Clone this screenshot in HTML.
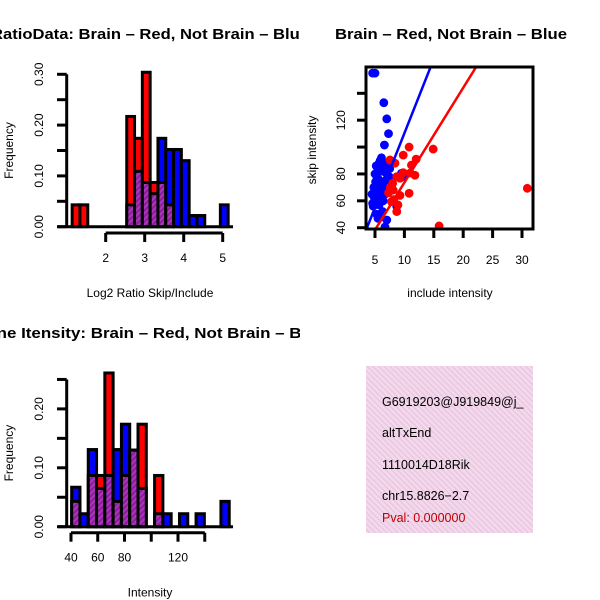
<!DOCTYPE html>
<html><head><meta charset="utf-8"><style>
html,body{margin:0;padding:0;background:#fff;}
svg{display:block;font-family:"Liberation Sans",Arial,sans-serif;}
</style></head><body>
<svg id="chart" width="600" height="600" viewBox="0 0 600 600" xmlns="http://www.w3.org/2000/svg">
<defs>
<clipPath id="clipL"><rect x="0" y="0" width="300" height="600"/></clipPath>
<clipPath id="clipSc"><rect x="366" y="67" width="167" height="162"/></clipPath>
<clipPath id="clipBox"><rect x="366" y="366" width="167" height="167"/></clipPath>
<pattern id="purp" patternUnits="userSpaceOnUse" width="4" height="4" patternTransform="rotate(45)">
<rect width="4" height="4" fill="#8c1c9c"/><rect width="2" height="4" fill="#a838b8"/></pattern>
<pattern id="pinkhatch" patternUnits="userSpaceOnUse" width="4" height="4" patternTransform="rotate(-45)">
<rect width="4" height="4" fill="#f6d6f0"/><rect width="1.3" height="4" fill="#e2cad6"/></pattern>
</defs>
<g id="h1"></g>
<g id="sc"></g>
<g id="h2"></g>
<g>
<rect x="366" y="366" width="167" height="167" fill="url(#pinkhatch)"/>
<g clip-path="url(#clipBox)" font-size="12.5">
<text x="382" y="406">G6919203@J919849@j_</text>
<text x="382" y="437">altTxEnd</text>
<text x="382" y="469">1110014D18Rik</text>
<text x="382" y="500">chr15.8826−2.7</text>
<text x="382" y="522" fill="#c00000">Pval: 0.000000</text>
</g></g>
</svg>
<script>
// ---- Histogram 1: Log2 ratio ----
const h1Start = 1.14, h1Width = 0.2;
const h1Red  = [0.043,0.043,0,0,0,0,0,0.217,0.174,0.304,0.087,0.087,0.043,0,0,0,0,0,0,0];
const h1Blue = [0,0,0,0,0,0,0,0.043,0.109,0.087,0.065,0.174,0.152,0.152,0.130,0.022,0.022,0,0,0.043];
const h1XTicks = [2,3,4,5];
const h1YTicks = [0,0.05,0.10,0.15,0.20,0.25,0.30];
const h1YLabels = ["0.00","","0.10","","0.20","","0.30"];
// ---- Histogram 2: Intensity ----
const h2Start = 40.5, h2Width = 6.2;
const h2Red  = [0.043,0,0.087,0.087,0.261,0.043,0.087,0.130,0.174,0,0.087,0,0,0,0,0,0,0,0];
const h2Blue = [0.067,0.022,0.131,0.065,0.087,0.131,0.174,0.130,0.065,0,0.022,0.022,0,0.022,0,0.022,0,0,0.043];
const h2XTicks = [40,60,80,100,120,140];
const h2XLabels = ["40","60","80","","120",""];
const h2YTicks = [0,0.05,0.10,0.15,0.20,0.25];
const h2YLabels = ["0.00","","0.10","","0.20",""];
// ---- Scatter ----
const blueX = [4.7,4.9,5.0,4.8,5.1,5.3,5.0,5.5,5.7,5.9,6.1,6.3,5.6,5.8,6.0,6.2,5.4,5.7,6.4,6.6,6.8,7.0,6.5,6.9,7.2,7.4,6.3,6.0,5.3,4.6,4.5,6.7,7.3,7.5,5.2,6.1,4.6,5.0,6.5,7.0,7.3,6.6,8.1,9.5,9.8,8.7,7.0,5.5,6.7,4.7];
const blueY = [56,62,66,70,74,78,80,84,88,90,86,82,76,72,68,64,60,57,60,70,75,80,84,88,86,78,52,48,50,58,65,65,72,84,86,92,155,155,133,121,110,101.5,88,80.5,78,55.8,45.7,47,40.5,57];
const redX = [10.8,14.9,12,11.2,11.8,11,7.55,8.4,9.8,9.8,8.7,9.25,10.8,8.1,9.25,7.8,8.9,8.7,8.2,15.9,30.9,7.3,7.6,8.0];
const redY = [100,98.5,91,86.6,79,80.7,90.4,88,94,81,78,76.8,65.6,68,64,59.4,57,52,61,41.3,69.3,66,70,73];
const fitSlope = [11.06, 7.05];     // blue, red
const fitIntercept = [-0.3, 3.1];
const scXTicks = [5,10,15,20,25,30];
const scYTicks = [40,60,80,100,120,140];
const scYLabels = ["40","60","80","","120",""];

const NS = "http://www.w3.org/2000/svg";
function mk(parent, tag, attrs, txt){
  const e = document.createElementNS(NS, tag);
  for (const k in attrs) e.setAttribute(k, attrs[k]);
  if (txt !== undefined) e.textContent = txt;
  parent.appendChild(e); return e;
}

function histogram(g, o){
  const t = mk(g,'text',{x:150,y:o.titleY,'text-anchor':'middle','font-size':15,'font-weight':'bold','clip-path':'url(#clipL)',textLength:o.titleLen,lengthAdjust:'spacingAndGlyphs'},o.title);
  
  
  for (let i=0;i<o.red.length;i++){
    const r=o.red[i], b=o.blue[i]; if(r===0&&b===0) continue;
    const x0=o.x(o.start+i*o.width), x1=o.x(o.start+(i+1)*o.width);
    const hi=Math.max(r,b), lo=Math.min(r,b);
    const bar = mk(g,'rect',{x:x0,y:o.y(hi),width:x1-x0,height:o.y(0)-o.y(hi),fill:r>=b?'#ff0000':'#0000ff',stroke:'#000','stroke-width':3});
    
    
    if (lo>0){
      const ov = mk(g,'rect',{x:x0,y:o.y(lo),width:x1-x0,height:o.y(0)-o.y(lo),fill:'url(#purp)',stroke:'#000','stroke-width':3});
      
      
    }
  }
  const bl = mk(g,'line',{x1:58,x2:233,y1:o.y(0),y2:o.y(0),stroke:'#000','stroke-width':3});
  
  
  const ya = mk(g,'line',{x1:66.7,x2:66.7,y1:o.y(o.yTicks[0]),y2:o.y(o.yTicks[o.yTicks.length-1]),stroke:'#000','stroke-width':3});
  
  
  o.yTicks.forEach((v,i)=>{
    mk(g,'line',{x1:57,x2:66.7,y1:o.y(v),y2:o.y(v),stroke:'#000','stroke-width':3});
    if(o.yLabels[i]){
      const yy=o.y(v);
      const l = mk(g,'text',{x:43,y:yy,'font-size':12,'text-anchor':'middle',transform:`rotate(-90 43 ${yy})`},o.yLabels[i]);
      
      
    }
  });
  const xa = mk(g,'line',{x1:o.x(o.xTicks[0]),x2:o.x(o.xTicks[o.xTicks.length-1]),y1:o.axisY,y2:o.axisY,stroke:'#000','stroke-width':3});
  
  
  o.xTicks.forEach((v,i)=>{
    mk(g,'line',{x1:o.x(v),x2:o.x(v),y1:o.axisY,y2:o.axisY+9,stroke:'#000','stroke-width':3});
    if(o.xLabels[i]){
      const l = mk(g,'text',{x:o.x(v),y:o.axisY+29,'font-size':12,'text-anchor':'middle'},o.xLabels[i]);
      
      
    }
  });
  const xt = mk(g,'text',{x:150,y:o.axisY+64,'font-size':12,'text-anchor':'middle'},o.xTitle);
  
  
  const yc=(o.y(0)+o.y(o.yTicks[o.yTicks.length-1]))/2;
  const yt = mk(g,'text',{x:13,y:yc,'font-size':12,'text-anchor':'middle',transform:`rotate(-90 13 ${yc})`},'Frequency');
  
  
}

histogram(document.getElementById('h1'),{
  title:'RatioData: Brain – Red, Not Brain – Blue', titleY:39, titleLen:318,
  red:h1Red, blue:h1Blue, start:h1Start, width:h1Width,
  x:v=>105.7+(v-2)*39, y:f=>226.7-f*508, axisY:233,
  xTicks:h1XTicks, xLabels:h1XTicks.map(String), yTicks:h1YTicks, yLabels:h1YLabels,
  xTitle:'Log2 Ratio Skip/Include'
});
histogram(document.getElementById('h2'),{
  title:'Gene Itensity: Brain – Red, Not Brain – Blue', titleY:338, titleLen:352,
  red:h2Red, blue:h2Blue, start:h2Start, width:h2Width,
  x:v=>71+(v-40)*1.3375, y:f=>526.7-f*589, axisY:532.7,
  xTicks:h2XTicks, xLabels:h2XLabels, yTicks:h2YTicks, yLabels:h2YLabels,
  xTitle:'Intensity'
});

(function(){
  const g=document.getElementById('sc');
  const sx=v=>375+(v-5)*5.88, sy=v=>227.7-(v-40)*1.344;
  const t=mk(g,'text',{x:451,y:39,'text-anchor':'middle','font-size':15,'font-weight':'bold',textLength:232,lengthAdjust:'spacingAndGlyphs'},'Brain – Red, Not Brain – Blue');
  
  
  const pg=mk(g,'g',{'clip-path':'url(#clipSc)'});
  blueX.forEach((x,i)=>{
    const c=mk(pg,'circle',{cx:sx(x),cy:sy(blueY[i]),r:4.4,fill:'#0000ff'});
    
    
  });
  redX.forEach((x,i)=>{
    const c=mk(pg,'circle',{cx:sx(x),cy:sy(redY[i]),r:4.4,fill:'#ff0000'});
    
    
  });
  const cols=['#0000ff','#ff0000'];
  fitSlope.forEach((m,i)=>{
    const xa=0, xb=40;
    const l=mk(pg,'line',{x1:sx(xa),y1:sy(m*xa+fitIntercept[i]),x2:sx(xb),y2:sy(m*xb+fitIntercept[i]),stroke:cols[i],'stroke-width':2.5});
    
    
  });
  const box=mk(g,'rect',{x:366,y:67,width:167,height:162,fill:'none',stroke:'#000','stroke-width':3});
  
  
  scXTicks.forEach(v=>{
    mk(g,'line',{x1:sx(v),x2:sx(v),y1:229,y2:238,stroke:'#000','stroke-width':3});
    const l=mk(g,'text',{x:sx(v),y:264,'font-size':12,'text-anchor':'middle'},String(v));
    
    
  });
  scYTicks.forEach((v,i)=>{
    mk(g,'line',{x1:357,x2:366,y1:sy(v),y2:sy(v),stroke:'#000','stroke-width':3});
    if(scYLabels[i]){
      const yy=sy(v);
      const l=mk(g,'text',{x:345,y:yy,'font-size':12,'text-anchor':'middle',transform:`rotate(-90 345 ${yy})`},scYLabels[i]);
      
      
    }
  });
  const xt=mk(g,'text',{x:450,y:297,'font-size':12,'text-anchor':'middle'},'include intensity');
  
  
  const yt=mk(g,'text',{x:316,y:150,'font-size':12,'text-anchor':'middle',transform:'rotate(-90 316 150)'},'skip intensity');
  
  
})();
</script>
</body></html>
